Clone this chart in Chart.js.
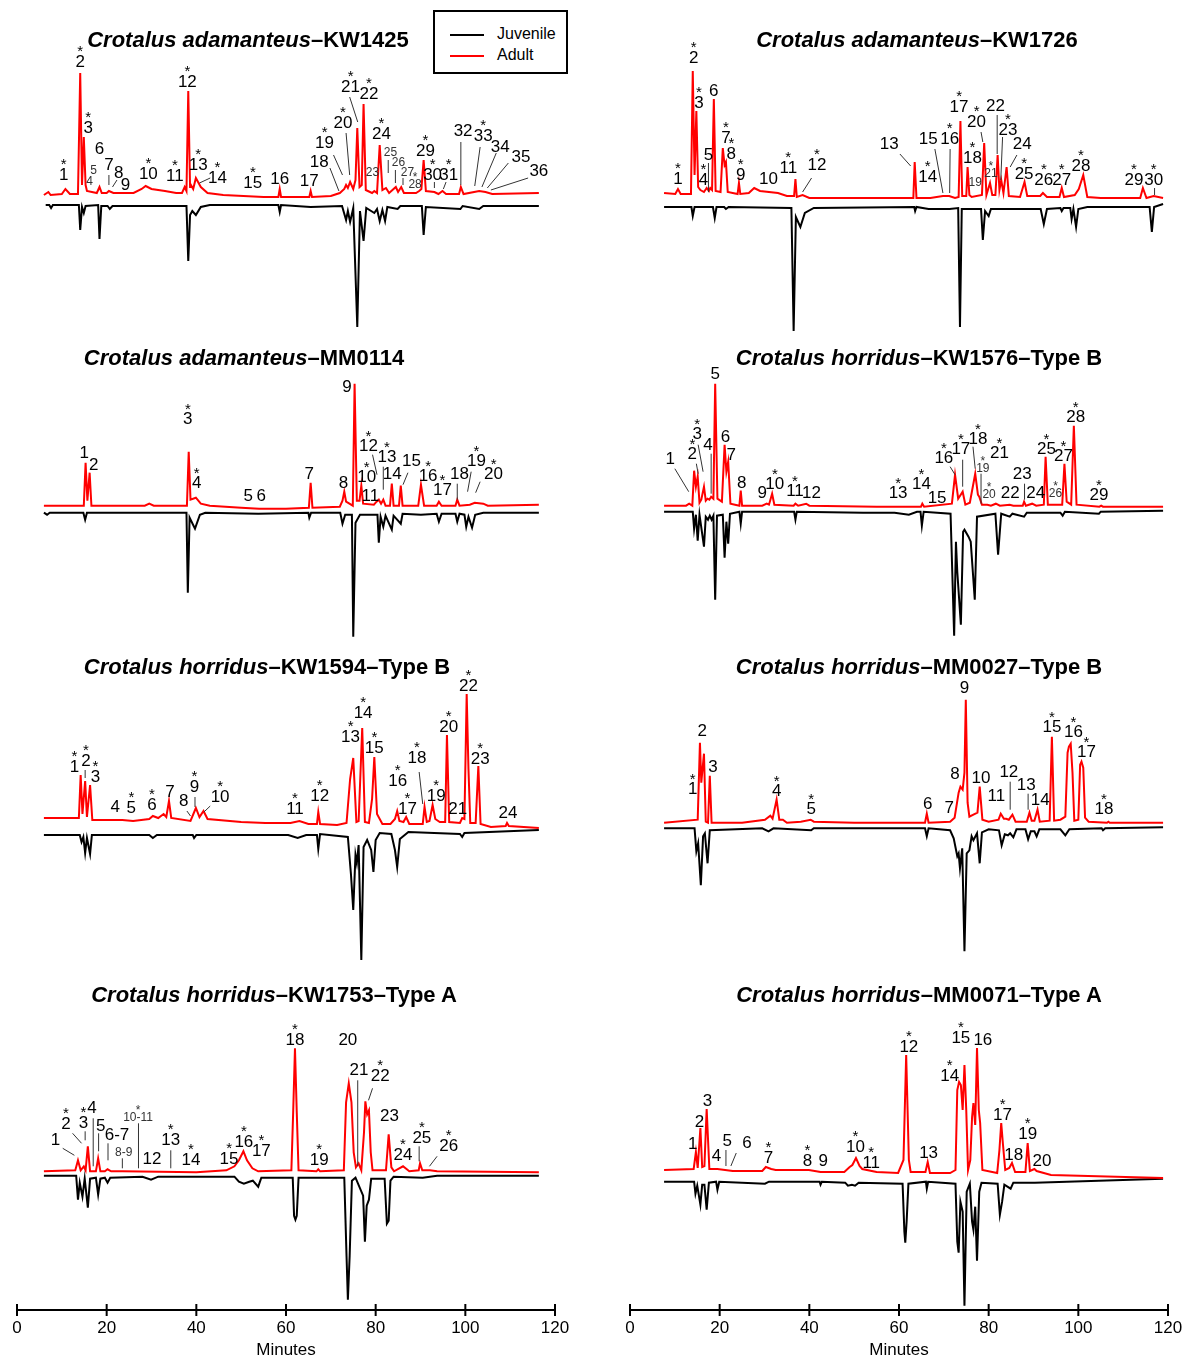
<!DOCTYPE html>
<html>
<head>
<meta charset="utf-8">
<script src="https://cdn.jsdelivr.net/npm/chart.js@4.4.1/dist/chart.umd.min.js"></script>
<style>
  body { margin: 0; background: #fff; }
  #page { position: relative; width: 1190px; height: 1358px; overflow: hidden; font-family: "Liberation Sans", Arial, sans-serif; }
  canvas { position: absolute; }
  .title { position: absolute; transform: translate(-50%, -50%); white-space: nowrap; font-weight: bold; font-size: 22px; color: #000; }
  .legend { position: absolute; left: 433px; top: 10px; width: 131px; height: 60px; border: 2px solid #000; background: #fff; }
  .legend .row { position: absolute; left: 15px; font-size: 16px; line-height: 16px; }
  .legend .swatch { display: inline-block; width: 34px; height: 2px; vertical-align: middle; margin-right: 13px; }
</style>
</head>
<body>
<div id="page"></div>
<script>
// retention time axis (minutes)
const minuteTicks = [0, 20, 40, 60, 80, 100, 120];

// each trace: [minute, height] ; adult heights above its baseline, juvenile depths below its baseline
// labels: [minute, height, text, star, small] ; leaders: [m1, h1, m2, h2]

// ---- Crotalus adamanteus KW1425
const kw1425Adult = [[6,0],[7,3],[7.5,0],[10,1],[10.8,6],[11.8,1],[13.6,1],[14.1,122],[14.5,10],[14.9,58],[15.3,10],[15.6,4],[17.8,2],[18.4,8],[18.9,2],[20,2],[20.5,4],[21.5,2],[26,2],[27.8,6],[28.7,9],[30,6],[33,4],[35.5,2],[36.8,2],[37.4,8],[37.8,4],[38.2,104],[38.6,8],[38.8,10],[39.3,6],[39.9,17],[41,8],[42.5,2],[46,0],[55,-2],[58.3,-2],[58.6,6],[58.9,-2],[65.2,-2],[65.5,4],[65.8,-2],[70,-1],[72,2],[73,6],[73.4,10],[73.8,7],[74.3,13],[75,6],[75.5,15],[75.9,67],[76.4,8],[76.9,10],[77.3,91],[77.8,5],[79.2,2],[79.7,4],[80.3,2],[80.9,50],[81.5,5],[82.3,7],[83,2],[84.5,8],[85,3],[85.7,8],[86.3,2],[89,2],[89.7,4],[90.2,6],[90.7,35],[91.2,4],[93.1,3],[94,1],[94.9,4],[95.7,1],[98.6,1],[99,8],[99.6,1],[103.1,4],[104.5,3],[106,1],[116.4,2]];
const kw1425Juvenile = [[6.4,0],[7.2,0],[7.6,3],[8,0],[13.8,0],[14.1,25],[14.5,2],[14.9,8],[15.3,1],[18.1,0],[18.4,34],[18.8,1],[20.2,1],[20.7,4],[21.3,1],[37.8,1],[38.2,56],[38.6,10],[39.1,6],[39.9,10],[41,2],[43,0],[58.3,0],[58.6,7],[58.9,0],[65.5,2],[72.5,1],[73.4,15],[73.8,6],[74.3,17],[75,3],[75.9,122],[76.5,6],[77.3,36],[77.9,3],[79.7,8],[80.3,4],[80.9,16],[81.5,5],[82.1,16],[82.6,2],[84.9,4],[85.5,1],[90.3,1],[90.7,30],[91.2,2],[98.9,4],[99.4,1],[103.1,4],[104,1],[116.4,1]];
const kw1425Labels = [[10.4,20,'1',1],[14.1,133,'2',1],[15.9,67,'3',1],[16.2,13,'4',0,1],[17.1,24,'5',0,1],[18.4,46,'6'],[20.5,30,'7'],[22.7,22,'8'],[24.2,10,'9'],[29.3,21,'10',1],[35.2,19,'11',1],[38,113,'12',1],[40.4,30,'13',1],[44.7,17,'14',1],[52.6,12,'15',1],[58.6,16,'16'],[65.2,14,'17'],[67.4,33,'18'],[68.6,52,'19',1],[72.7,72,'20',1],[74.4,108,'21',1],[78.5,101,'22',1],[79.3,22,'23',0,1],[81.3,61,'24',1],[83.3,42,'25',0,1],[85.1,32,'26',0,1],[87.1,22,'27',0,1],[88.8,10,'28',1,1],[91.1,44,'29',1],[92.7,20,'30',1],[96.3,20,'31',1],[99.5,64,'32'],[104,59,'33',1],[107.8,48,'34'],[112.4,38,'35'],[116.4,24,'36']];
const kw1425Leaders = [[20.5,20,20.5,10],[22.3,15,21.3,8],[43.1,17,40.7,12],[69.8,27,71.8,4],[70.6,40,72.6,20],[73.4,62,74.2,20],[74.2,98,76,73],[82.8,35,82.8,22],[84.4,25,84.4,12],[86.1,17,86.1,10],[93.1,13,93.1,7],[95.7,13,95.1,6],[99,53,99,10],[103.3,48,102.1,9],[106.9,42,103.7,8],[109.6,32,104.9,7],[114,17,105.7,5]];

// ---- Crotalus adamanteus KW1726
const kw1726Adult = [[7.6,2],[10.1,1],[10.7,6],[11.3,1],[13.6,1],[14,124],[14.4,20],[14.8,84],[15.2,8],[15.7,5],[16.5,3],[17.1,7],[17.6,4],[17.9,7],[18.3,5],[18.7,96],[19.1,4],[20.2,3],[20.7,47],[21.1,30],[21.4,33],[21.8,3],[24,1],[24.3,12],[24.6,1],[26.5,2],[27.7,7],[29,4],[33,2],[35,-1],[36.6,-1],[36.9,16],[37.2,-2],[38.5,0],[40,-3],[50,-3],[63.2,-3],[63.5,33],[63.9,-3],[67,-3],[69.8,-1],[71.2,-1],[72.5,-3],[73.3,-2],[73.7,74],[74.1,-1],[75,-1],[75.3,28],[75.7,0],[76.2,-2],[78.5,0],[79,52],[79.5,0],[80.3,12],[80.8,0],[81.5,0],[82,40],[82.4,5],[82.8,15],[83.3,2],[84,28],[84.5,-1],[87,-2],[88,13],[88.6,-1],[91.5,-1],[92.1,2],[93,-2],[95.8,-2],[96.3,7],[96.8,-2],[99.2,0],[100.1,6],[101.1,20],[102,-2],[105,-3],[113.8,-3],[114.4,7],[115.2,-3],[116.8,-1],[118.9,-3]];
const kw1726Juvenile = [[7.6,0],[13.7,0],[14,9],[14.4,0],[18.5,0],[18.9,11],[19.3,0],[21,0],[21.4,2],[22,0],[36,1],[36.5,124],[37,10],[38,20],[39,6],[41,1],[63.4,0],[63.6,4],[63.9,0],[66.6,2],[71.3,2],[73.2,1],[73.6,120],[74,2],[78.3,2],[78.7,33],[79.2,4],[80,9],[80.5,2],[82,2],[84,2],[91.6,2],[92.3,17],[93,2],[96,1],[96.3,4],[96.7,1],[98.2,1],[98.5,12],[98.9,2],[99.5,20],[100,2],[102,0],[115.9,0],[116.4,25],[116.9,0],[118.9,-3]];
const kw1726Labels = [[10.7,16,'1',1],[14.2,137,'2',1],[15.4,92,'3',1],[16.4,15,'4',1],[17.5,40,'5'],[18.7,104,'6'],[21.4,57,'7',1],[22.6,41,'8',1],[24.7,20,'9',1],[30.9,16,'10'],[35.3,27,'11',1],[41.7,30,'12',1],[57.8,51,'13'],[66.4,18,'14',1],[66.5,56,'15'],[71.3,56,'16',1],[73.4,88,'17',1],[76.4,37,'18',1],[77,12,'19',0,1],[77.3,73,'20',1],[80.5,21,'21',1,1],[81.5,89,'22'],[84.3,65,'23',1],[87.5,51,'24'],[87.9,21,'25',1],[92.3,15,'26',1],[96.3,15,'27',1],[100.6,29,'28',1],[112.4,15,'29',1],[116.8,15,'30',1]];
const kw1726Leaders = [[17.5,32,17.5,3],[40.5,17,38.5,3],[60.2,41,62.6,29],[68,46,69.8,2],[71.4,46,71.3,2],[78.3,63,78.7,53],[81.9,80,81.9,41],[83.1,58,82.7,15],[86.3,40,84.8,28],[117,7,117,0]];

// ---- Crotalus adamanteus MM0114
const mm0114Adult = [[6,0],[14.9,0],[15.3,43],[15.7,5],[16.2,33],[16.6,0],[28.5,0],[29.5,2],[30.5,0],[37.9,0],[38.3,54],[38.7,6],[39.9,8],[41,2],[43,0],[50,-2],[54,-3],[60,-3],[65.1,-2],[65.5,23],[65.9,-2],[72,-1],[72.6,5],[73,14],[73.4,4],[74.9,0],[75.3,122],[75.8,5],[76.4,5],[76.8,20],[77.2,2],[79.6,1],[80.2,4],[80.7,6],[81.2,2],[81.7,6],[82.2,0],[83.2,0],[83.6,22],[84,0],[85.2,0],[85.6,20],[86,0],[89.5,0],[90.1,21],[90.8,0],[93.6,0],[94.1,4],[94.7,0],[97.8,0],[98.2,6],[98.7,0],[101,1],[102.1,3],[104,2],[105,0],[116.4,1]];
const mm0114Juvenile = [[6,0],[6.7,2],[7.3,0],[14.8,0],[15.2,7],[15.6,0],[37.8,0],[38.1,80],[38.5,5],[39.7,16],[40.8,2],[42,0],[53.8,1],[65,0],[65.2,5],[65.6,0],[72.1,0],[72.6,11],[73.2,2],[74.7,2],[75,124],[75.5,10],[76.5,2],[80.4,2],[80.7,30],[81.1,4],[81.7,14],[82.2,3],[83.6,17],[84,3],[85.6,11],[86,1],[90.1,2],[93.6,1],[94.1,9],[94.7,1],[97.8,1],[98.2,9],[98.7,1],[99.8,2],[100.2,14],[100.7,4],[101.5,15],[102.2,2],[104,0],[116.4,0]];
const mm0114Labels = [[15,52,'1'],[17.1,40,'2'],[38.1,86,'3',1],[40.1,22,'4',1],[51.6,9,'5'],[54.5,9,'6'],[65.2,31,'7'],[72.8,22,'8'],[73.6,118,'9'],[78,28,'10',1],[78.8,9,'11'],[78.4,59,'12',1],[82.5,48,'13',1],[83.7,31,'14'],[88,44,'15'],[91.7,29,'16',1],[94.9,15,'17',1],[98.7,31,'18'],[102.5,44,'19',1],[106.3,31,'20',1]];
const mm0114Leaders = [[79.3,51,80.3,31],[81.7,39,81.7,16],[87.2,33,86.1,21],[98.2,22,98.2,6],[101.3,34,100.5,14],[103.3,24,102.3,13]];

// ---- Crotalus horridus KW1576 (Type B)
const kw1576Adult = [[7.6,1],[12.5,1],[13.2,3],[13.9,1],[14.3,36],[14.7,20],[15.1,30],[15.5,4],[15.9,7],[16.5,20],[16.9,6],[17.3,8],[17.7,7],[18.1,10],[18.6,8],[19,123],[19.5,8],[20.5,5],[21.1,62],[21.5,35],[21.9,45],[22.4,3],[24.4,1],[24.7,16],[25,1],[29.5,1],[30.5,3],[31,2],[31.7,13],[32.2,2],[36.5,1],[36.9,3],[37.5,1],[39.3,3],[40,1],[55,0],[64.9,0],[65.2,3],[65.6,0],[71.8,3],[72.5,32],[73.2,8],[74.2,15],[74.8,2],[75.8,4],[77,33],[77.6,12],[77.9,10],[78.5,2],[79.7,2],[80.5,1],[81.6,3],[82.5,1],[84.7,2],[85.5,1],[87.6,1],[87.9,5],[88.3,1],[89.7,3],[90.6,1],[92.3,2],[92.7,50],[93.2,2],[95.1,2],[96.4,2],[96.9,43],[97.4,5],[98.4,2],[99,81],[99.6,2],[104.7,0],[105.1,1],[105.5,0],[118.9,0]];
const kw1576Juvenile = [[7.6,0],[14,0],[14.3,17],[14.7,3],[15.1,29],[15.5,3],[16.5,35],[16.9,5],[17.4,8],[17.8,4],[18.2,8],[18.6,4],[19,88],[19.4,4],[20.7,3],[21.1,46],[21.5,10],[21.9,32],[22.3,2],[24.4,0],[24.7,12],[25,0],[36.6,0],[36.9,8],[37.2,0],[52,1],[59,1],[62.2,3],[64,0],[64.8,0],[65.1,14],[65.5,0],[71.5,2],[72.3,124],[72.7,30],[73,60],[73.8,113],[74.3,20],[74.6,18],[75.5,25],[76,30],[76.9,88],[77.4,5],[81.5,2],[82.1,43],[82.8,2],[84.7,5],[85.3,2],[87.9,5],[88.5,1],[96,1],[96.5,4],[97,0],[104.6,2],[105,0],[118.9,-1]];
const kw1576Labels = [[9,47,'1'],[13.9,52,'2',1],[15,72,'3',1],[17.4,61,'4'],[19,132,'5'],[21.3,69,'6'],[22.6,51,'7'],[24.9,23,'8'],[29.5,13,'9'],[32.3,22,'10',1],[36.8,15,'11',1],[40.5,13,'12'],[59.8,13,'13',1],[65,22,'14',1],[68.5,8,'15'],[70,48,'16',1],[73.8,57,'17',1],[77.6,67,'18',1],[78.7,38,'19',1,1],[80.1,12,'20',1,1],[82.4,53,'21',1],[84.8,13,'22'],[87.5,32,'23'],[90.5,13,'24'],[92.9,57,'25',1],[94.9,13,'26',1,1],[96.7,50,'27',1],[99.4,89,'28',1],[104.6,11,'29',1]];
const kw1576Leaders = [[10,38,13.1,15],[14.8,43,15.2,33],[15.2,62,16.3,35],[18.1,53,18.1,13],[71.4,40,72.5,32],[74.2,47,74.2,20],[76.5,60,77,38],[78.3,33,78.3,3],[88,23,88,7]];

// ---- Crotalus horridus KW1594 (Type B)
const kw1594Adult = [[6,1],[13.8,1],[14.2,44],[14.6,5],[15.2,38],[15.6,2],[16.3,34],[16.8,-1],[23.5,-1],[25.9,-2],[29.5,0],[30.3,3],[31.5,1],[32.7,5],[33.3,2],[33.9,18],[34.4,1],[38.7,-2],[39.9,11],[40.7,2],[41.6,8],[42.5,0],[50,-3],[55.4,-4],[61,-4],[63,-2],[65,-5],[66.9,-5],[67.2,7],[67.6,-5],[71.4,-6],[73.5,-4],[74.3,40],[75,61],[75.7,-3],[76.2,-2],[77,91],[77.6,-3],[78.5,-4],[79.2,20],[79.7,62],[80.3,5],[81.5,-5],[83.3,-5],[84.3,0],[84.8,8],[85.3,-2],[86.2,-3],[86.8,2],[87.5,-5],[90.5,-5],[90.9,12],[91.4,-3],[92,-2],[92.7,14],[93.3,0],[94.3,-3],[95.5,-3],[95.9,84],[96.4,-3],[98.8,-4],[99.3,1],[99.8,0],[100.3,125],[100.7,50],[101.1,-4],[102.3,-4],[102.9,53],[103.4,-5],[105.7,-8],[109,-7],[109.3,-4],[109.7,-7],[116.4,-9]];
const kw1594Juvenile = [[6,0],[14,0],[14.4,7],[14.8,2],[15.2,18],[15.6,3],[16.3,19],[16.7,0],[29.5,0],[30.3,3],[31.2,0],[39.2,0],[39.5,3],[40,0],[60.5,0],[62.6,3],[64.5,0],[66.9,0],[67.2,14],[67.6,-1],[73.8,2],[74.5,40],[75,75],[75.5,20],[75.8,28],[76.2,10],[76.8,125],[77.3,12],[78.1,5],[79,15],[79.5,37],[80,5],[80.9,-2],[83.5,-1],[84.3,15],[84.8,32],[85.4,4],[87.3,-3],[98.8,-1],[99.3,2],[99.8,-2],[116.4,-5]];
const kw1594Labels = [[12.8,52,'1',1],[15.4,58,'2',1],[17.5,42,'3',1],[21.9,12,'4'],[25.5,11,'5',1],[30.1,14,'6',1],[34.1,27,'7'],[37.2,18,'8'],[39.6,32,'9',1],[45.3,22,'10',1],[62,10,'11',1],[67.5,23,'12',1],[74.4,82,'13',1],[77.2,106,'14',1],[79.7,71,'15',1],[84.9,38,'16',1],[87.1,10,'17',1],[89.2,61,'18',1],[93.5,23,'19',1],[96.3,92,'20',1],[98.3,10,'21'],[100.7,133,'22',1],[103.3,60,'23',1],[109.5,6,'24']];
const kw1594Leaders = [[15.2,49,15.2,41],[37.9,8,38.7,3],[39.7,22,39.7,12],[43.1,13,41.7,7],[89.7,47,90.5,15]];

// ---- Crotalus horridus MM0027 (Type B)
const mm0027Adult = [[7.6,0],[15.1,3],[15.6,80],[15.9,40],[16.5,69],[16.9,1],[17.4,0],[17.8,47],[18.2,0],[25,0],[30.1,3],[31.3,7],[31.8,4],[32.7,23],[33.3,3],[34.1,3],[35,0],[38.1,1],[40.3,3],[41,1],[50,0],[65.8,0],[66.2,9],[66.6,0],[71.4,1],[72.4,5],[73.3,30],[73.7,36],[74.2,33],[74.6,50],[74.9,123],[75.3,20],[75.7,6],[76.6,8],[77.5,10],[78,36],[78.6,3],[80,1],[82.2,3],[82.7,9],[83.4,4],[83.9,4],[84.5,3],[85.3,8],[86,1],[88.5,1],[89.1,10],[89.6,2],[90.2,2],[90.9,13],[91.4,1],[93.6,2],[94.1,86],[94.6,2],[96,3],[97.1,6],[97.6,70],[97.9,76],[98.3,79],[98.7,50],[99.1,2],[100,3],[100.4,58],[100.7,61],[101.1,55],[101.5,5],[102.3,1],[106.4,0],[106.7,1],[107,0],[118.9,0]];
const mm0027Juvenile = [[7.6,0],[14.4,0],[14.8,23],[15.2,15],[15.8,57],[16.3,8],[16.7,5],[17.3,35],[17.8,2],[29.5,0],[30.9,3],[32,0],[40.4,2],[41,0],[65.8,0],[66.2,8],[66.6,0],[71.4,2],[72.2,10],[73,28],[73.3,25],[73.6,40],[74.1,20],[74.6,123],[75.1,25],[75.7,22],[76.2,8],[76.6,12],[77.4,5],[78,35],[78.5,4],[80,1],[82.3,2],[82.9,17],[83.6,6],[84.3,7],[84.8,5],[85.5,9],[86.2,1],[88.2,1],[88.8,11],[89.4,3],[90.2,3],[90.7,8],[91.3,1],[96,1],[97.1,7],[98,1],[105.2,0],[105.5,2],[106,0],[118.9,-1]];
const mm0027Labels = [[14,33,'1',1],[16.1,91,'2'],[18.5,55,'3'],[32.7,31,'4',1],[40.4,13,'5',1],[66.4,18,'6'],[71.2,14,'7'],[72.5,48,'8'],[74.6,134,'9'],[78.3,44,'10'],[81.7,26,'11'],[84.5,50,'12'],[88.4,37,'13'],[91.5,22,'14'],[94.1,95,'15',1],[98.9,90,'16',1],[101.8,70,'17',1],[105.7,13,'18',1]];
const mm0027Leaders = [[84.8,41,84.8,13],[88.8,29,88.8,13]];

// ---- Crotalus horridus KW1753 (Type A)
const kw1753Adult = [[6,1],[13,2],[13.6,12],[14.2,2],[14.9,6],[15.3,2],[15.8,26],[16.3,1],[17.6,1],[18.1,14],[18.6,1],[19.6,1],[20.2,3],[21,1],[23.5,1],[40,0],[46.7,2],[48.5,6],[49.5,12],[50.5,21],[51.3,12],[52.5,4],[53.8,1],[61.2,2],[61.6,60],[62,124],[62.4,60],[62.8,2],[66.8,1],[67.2,3],[67.6,1],[72.9,2],[73.4,70],[74,89],[74.6,70],[75.1,20],[75.6,5],[76.2,9],[76.8,2],[77.4,40],[77.7,71],[78.1,58],[78.5,62],[78.9,20],[79.3,2],[82.3,2],[82.9,38],[83.5,5],[84.1,1],[86.1,6],[87.5,1],[89.6,2],[89.9,9],[90.4,2],[92.1,2],[93.7,1],[116.4,0]];
const kw1753Juvenile = [[6,0],[13.2,0],[13.6,24],[14,7],[14.6,21],[15.1,3],[15.8,32],[16.3,3],[17.6,2],[18.1,19],[18.6,3],[19.6,2],[20.2,7],[20.8,2],[28,1],[29.9,4],[31.5,1],[48.5,1],[49.5,6],[50.6,8],[51.8,6],[52.6,5],[53.8,11],[54.5,2],[61.5,2],[61.8,40],[62.1,44],[62.4,40],[62.8,2],[67.2,2],[73,2],[73.5,80],[73.8,124],[74.2,80],[74.7,5],[75.5,2],[77.2,20],[77.6,66],[78,30],[78.5,24],[79,3],[82,3],[82.5,48],[82.9,45],[83.3,5],[84,1],[90.5,2],[93.7,0],[116.4,0]];
const kw1753Labels = [[8.6,32,'1'],[10.9,48,'2',1],[14.8,49,'3',1],[16.7,64,'4'],[18.7,46,'5'],[22.3,37,'6-7'],[23.8,20,'8-9',0,1],[27,55,'10-11',1,1],[30.1,13,'12'],[34.3,32,'13',1],[38.8,12,'14',1],[47.3,13,'15',1],[50.6,30,'16',1],[54.5,21,'17',1],[62,132,'18',1],[67.4,12,'19',1],[73.8,132,'20'],[76.3,102,'21'],[81,96,'22',1],[83.1,56,'23'],[86.1,17,'24',1],[90.3,34,'25',1],[96.3,26,'26',1]];
const kw1753Leaders = [[10.2,24,12.8,17],[12.4,39,14.4,29],[15.2,41,15.2,32],[17,54,17,6],[18.2,39,18.2,21],[20.3,29,20.3,12],[23.5,14,23.5,4],[27.1,49,27.1,4],[34.3,22,34.3,4],[76,92,76,6],[79.3,84,78.4,72],[89.7,26,89.7,11],[93.7,16,92,6]];

// ---- Crotalus horridus MM0071 (Type A)
const mm0071Adult = [[7.6,0],[14.2,1],[14.7,18],[15.1,2],[15.7,42],[16.1,3],[16.6,4],[17.1,61],[17.7,1],[19.5,1],[22.9,-1],[29.5,-1],[30.3,3],[31.5,1],[32.5,0],[39.9,0],[42.5,-2],[47.8,-2],[49,3],[49.6,5],[50.4,12],[51.2,4],[51.8,1],[55,-2],[59.8,-3],[61,10],[61.6,115],[62.2,10],[62.6,-2],[65.9,-2],[66.4,8],[66.9,-3],[71.4,-3],[72.6,0],[73,80],[73.4,88],[73.8,85],[74.2,60],[74.6,105],[75,60],[75.4,0],[75.9,10],[76.3,53],[76.6,67],[77,45],[77.4,122],[77.8,60],[78.1,47],[78.6,0],[81.9,-3],[82.4,20],[82.8,47],[83.2,25],[83.7,0],[84.6,2],[85.2,7],[85.9,-2],[88.2,-2],[88.7,27],[89.2,-1],[90.2,1],[90.7,-1],[93.9,-5],[118.9,-8]];
const mm0071Juvenile = [[7.6,0],[14.3,0],[14.6,12],[15,4],[15.7,23],[16.1,3],[16.6,3],[17.1,28],[17.6,1],[19.2,0],[19.5,8],[19.9,0],[30.1,2],[31,0],[42.3,0],[42.5,3],[42.8,0],[48,1],[48.6,4],[49.5,3],[50.2,4],[51,1],[60.8,2],[61.2,50],[61.4,61],[61.7,40],[62.1,2],[66,0],[66.2,7],[66.5,0],[72.6,2],[73,60],[73.3,71],[73.7,20],[74.2,30],[74.6,124],[75.1,10],[75.8,2],[76.3,40],[76.6,48],[77,25],[77.4,79],[77.9,10],[78.4,1],[82,2],[82.5,33],[83,20],[83.5,3],[84.9,7],[85.5,1],[90.3,1],[118.9,-3]];
const mm0071Labels = [[14,26,'1'],[15.5,48,'2'],[17.3,69,'3'],[19.3,14,'4'],[21.7,29,'5'],[26.1,27,'6'],[30.9,12,'7',1],[39.6,9,'8',1],[43.1,9,'9'],[50.3,23,'10',1],[53.8,7,'11',1],[62.2,123,'12',1],[66.6,17,'13'],[71.3,94,'14',1],[73.8,132,'15',1],[78.7,130,'16'],[83.1,55,'17',1],[85.6,15,'18'],[88.7,36,'19',1],[91.9,9,'20']];
const mm0071Leaders = [[21.4,20,21.4,4],[23.7,17,22.5,4]];

const FONT = '"Liberation Sans", Arial, sans-serif';

const panels = [
  { species: 'Crotalus adamanteus', rest: '–KW1425', tx: 248, ty: 40, col: 0, top: 0, height: 340, pad: 0, redBase: 195, blackBase: 205, adult: kw1425Adult, juvenile: kw1425Juvenile, labels: kw1425Labels, leaders: kw1425Leaders },
  { species: 'Crotalus adamanteus', rest: '–KW1726', tx: 917, ty: 40, col: 1, top: 0, height: 340, pad: 0, redBase: 195, blackBase: 207, adult: kw1726Adult, juvenile: kw1726Juvenile, labels: kw1726Labels, leaders: kw1726Leaders },
  { species: 'Crotalus adamanteus', rest: '–MM0114', tx: 244, ty: 358, col: 0, top: 340, height: 310, pad: 0, redBase: 505.7, blackBase: 512.7, adult: mm0114Adult, juvenile: mm0114Juvenile, labels: mm0114Labels, leaders: mm0114Leaders },
  { species: 'Crotalus horridus', rest: '–KW1576–Type B', tx: 919, ty: 358, col: 1, top: 340, height: 310, pad: 0, redBase: 506.7, blackBase: 511.7, adult: kw1576Adult, juvenile: kw1576Juvenile, labels: kw1576Labels, leaders: kw1576Leaders },
  { species: 'Crotalus horridus', rest: '–KW1594–Type B', tx: 267, ty: 667, col: 0, top: 650, height: 320, pad: 0, redBase: 819, blackBase: 835, adult: kw1594Adult, juvenile: kw1594Juvenile, labels: kw1594Labels, leaders: kw1594Leaders },
  { species: 'Crotalus horridus', rest: '–MM0027–Type B', tx: 919, ty: 667, col: 1, top: 650, height: 320, pad: 0, redBase: 822.7, blackBase: 828.3, adult: mm0027Adult, juvenile: mm0027Juvenile, labels: mm0027Labels, leaders: mm0027Leaders },
  { species: 'Crotalus horridus', rest: '–KW1753–Type A', tx: 274, ty: 995, col: 0, top: 970, height: 388, pad: 48, redBase: 1172.3, blackBase: 1175.7, adult: kw1753Adult, juvenile: kw1753Juvenile, labels: kw1753Labels, leaders: kw1753Leaders, axis: true },
  { species: 'Crotalus horridus', rest: '–MM0071–Type A', tx: 919, ty: 995, col: 1, top: 970, height: 388, pad: 48, redBase: 1170, blackBase: 1181.7, adult: mm0071Adult, juvenile: mm0071Juvenile, labels: mm0071Labels, leaders: mm0071Leaders, axis: true }
];

const page = document.getElementById('page');

function peakPlugin(p) {
  return {
    id: 'peakLabels',
    afterDatasetsDraw(chart) {
      const ctx = chart.ctx;
      const x = chart.scales.x, y = chart.scales.yA;
      ctx.save();
      // leader lines
      ctx.strokeStyle = '#333';
      ctx.lineWidth = 1;
      p.leaders.forEach(([m1, h1, m2, h2]) => {
        ctx.beginPath();
        ctx.moveTo(x.getPixelForValue(m1), y.getPixelForValue(h1));
        ctx.lineTo(x.getPixelForValue(m2), y.getPixelForValue(h2));
        ctx.stroke();
      });
      // peak numbers and asterisks
      ctx.textAlign = 'center';
      ctx.textBaseline = 'middle';
      p.labels.forEach(([m, h, text, star, small]) => {
        const px = x.getPixelForValue(m), py = y.getPixelForValue(h);
        ctx.fillStyle = small ? '#333' : '#000';
        ctx.font = (small ? 12 : 17) + 'px ' + FONT;
        ctx.fillText(text, px, py);
        if (star) {
          ctx.font = (small ? 12 : 15) + 'px ' + FONT;
          ctx.fillText('*', px, py - (small ? 7 : 10));
        }
      });
      // time axis on the bottom row
      if (p.axis) {
        const base = chart.chartArea.bottom;
        ctx.strokeStyle = '#000';
        ctx.lineWidth = 2;
        ctx.beginPath();
        ctx.moveTo(x.getPixelForValue(minuteTicks[0]), base);
        ctx.lineTo(x.getPixelForValue(minuteTicks[minuteTicks.length - 1]), base);
        ctx.stroke();
        ctx.fillStyle = '#000';
        ctx.font = '17px ' + FONT;
        minuteTicks.forEach(t => {
          const tx = x.getPixelForValue(t);
          ctx.beginPath();
          ctx.moveTo(tx, base - 6);
          ctx.lineTo(tx, base + 6);
          ctx.stroke();
          ctx.fillText(String(t), tx, base + 18);
        });
        ctx.fillText('Minutes', x.getPixelForValue(60), base + 40);
      }
      ctx.restore();
    }
  };
}

panels.forEach(p => {
  const left = p.col === 0 ? 0 : 613;
  const width = p.col === 0 ? 575 : 577;
  const canvas = document.createElement('canvas');
  canvas.width = width;
  canvas.height = p.height;
  canvas.style.left = left + 'px';
  canvas.style.top = p.top + 'px';
  page.appendChild(canvas);

  const areaTop = p.top;
  const areaBottom = p.top + p.height - p.pad;

  new Chart(canvas, {
    type: 'line',
    data: {
      datasets: [
        { label: 'Adult', data: p.adult, yAxisID: 'yA', borderColor: '#ff0000', borderWidth: 2, pointRadius: 0, tension: 0, fill: false },
        { label: 'Juvenile', data: p.juvenile, yAxisID: 'yJ', borderColor: '#000000', borderWidth: 2, pointRadius: 0, tension: 0, fill: false }
      ]
    },
    options: {
      responsive: false,
      animation: false,
      devicePixelRatio: 1,
      events: [],
      layout: { padding: { left: 17, right: width - 17 - 538, top: 0, bottom: p.pad } },
      plugins: { legend: { display: false }, tooltip: { enabled: false } },
      scales: {
        x: { type: 'linear', min: 0, max: 120, display: false },
        yA: { type: 'linear', display: false, min: -(areaBottom - p.redBase), max: p.redBase - areaTop },
        yJ: { type: 'linear', display: false, reverse: true, min: -(p.blackBase - areaTop), max: areaBottom - p.blackBase }
      }
    },
    plugins: [peakPlugin(p)]
  });

  const title = document.createElement('div');
  title.className = 'title';
  title.style.left = p.tx + 'px';
  title.style.top = p.ty + 'px';
  title.innerHTML = '<i>' + p.species + '</i>' + p.rest;
  page.appendChild(title);
});

// legend box
const legend = document.createElement('div');
legend.className = 'legend';
legend.innerHTML =
  '<div class="row" style="top:14px"><span class="swatch" style="background:#000"></span>Juvenile</div>' +
  '<div class="row" style="top:35px"><span class="swatch" style="background:#ff0000"></span>Adult</div>';
page.appendChild(legend);
</script>
</body>
</html>
